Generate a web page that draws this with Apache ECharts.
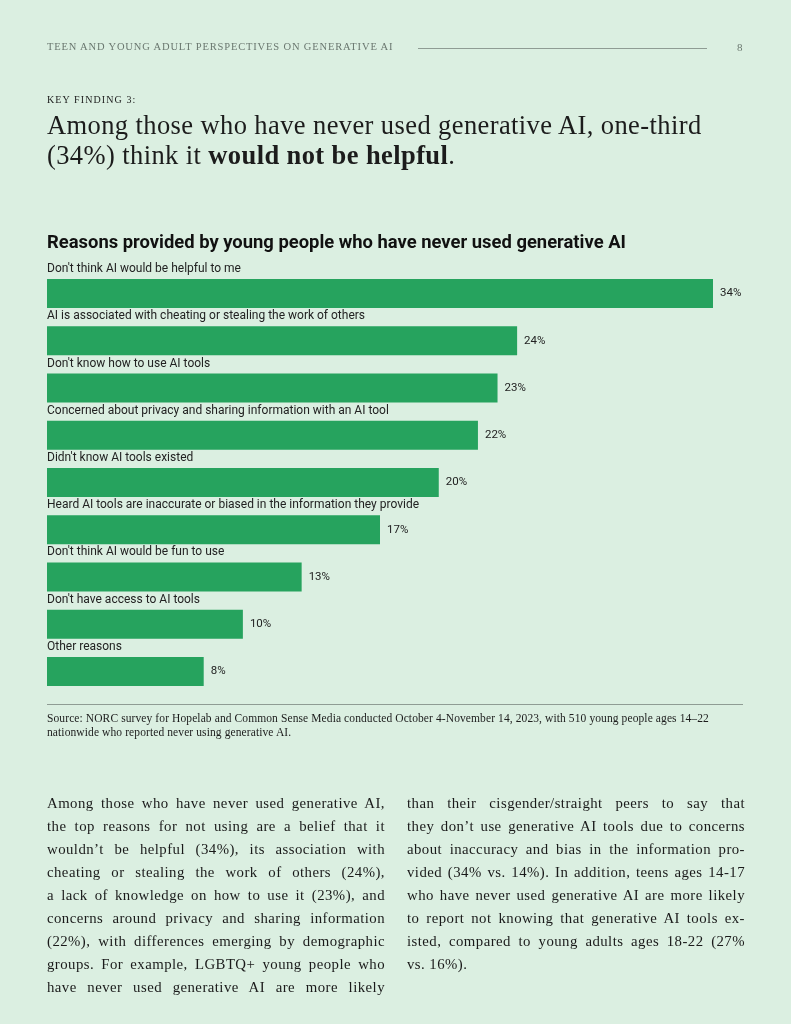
<!DOCTYPE html>
<html><head><meta charset="utf-8">
<script src="https://cdn.jsdelivr.net/npm/echarts@6/dist/echarts.min.js"></script>
<style>
html,body{margin:0;padding:0;}
body{width:791px;height:1024px;background:#dbefe1;position:relative;overflow:hidden;font-family:"Liberation Serif",serif;color:#1c1c1c;}
#chart{position:absolute;left:0;top:0;width:791px;height:1024px;}
.abs{position:absolute;white-space:nowrap;}
#hdr{left:47px;top:41px;font-size:10.5px;letter-spacing:0.85px;color:#6a776f;}
#hline{left:418px;top:48px;width:289px;height:0;border-top:1.5px solid #8f9c94;}
#pg{left:737px;top:41px;font-size:11px;color:#6a776f;}
#kf{left:47px;top:94px;font-size:10px;letter-spacing:1.1px;color:#1c1c1c;}
#head{left:47px;top:110px;font-size:26.5px;line-height:30px;letter-spacing:0.4px;color:#1c1c1c;}
#srcline{left:47px;top:704px;width:696px;border-top:1.5px solid #8f9c94;}
#src{left:47px;top:711px;font-size:11.5px;line-height:14px;letter-spacing:0.1px;color:#1c1c1c;}
.col{position:absolute;top:792px;width:338px;font-size:14.8px;line-height:23px;letter-spacing:0.45px;color:#1a1a1a;}
.col div{text-align:justify;text-align-last:justify;white-space:nowrap;}
.col div.last{text-align-last:left;}
</style></head>
<body>
<div id="chart"></div>
<div class="abs" id="hdr">TEEN AND YOUNG ADULT PERSPECTIVES ON GENERATIVE AI</div>
<div class="abs" id="hline"></div>
<div class="abs" id="pg">8</div>
<div class="abs" id="kf">KEY FINDING 3:</div>
<div class="abs" id="head">Among those who have never used generative AI, one-third<br>(34%) think it <b>would not be helpful</b>.</div>
<div class="abs" id="srcline"></div>
<div class="abs" id="src">Source: NORC survey for Hopelab and Common Sense Media conducted October 4-November 14, 2023, with 510 young people ages 14–22<br>nationwide who reported never using generative AI.</div>
<div class="col" style="left:47px">
<div>Among those who have never used generative AI,</div>
<div>the top reasons for not using are a belief that it</div>
<div>wouldn’t be helpful (34%), its association with</div>
<div>cheating or stealing the work of others (24%),</div>
<div>a lack of knowledge on how to use it (23%), and</div>
<div>concerns around privacy and sharing information</div>
<div>(22%), with differences emerging by demographic</div>
<div>groups. For example, LGBTQ+ young people who</div>
<div>have never used generative AI are more likely</div>
</div>
<div class="col" style="left:407px">
<div>than their cisgender/straight peers to say that</div>
<div>they don’t use generative AI tools due to concerns</div>
<div>about inaccuracy and bias in the information pro-</div>
<div>vided (34% vs. 14%). In addition, teens ages 14-17</div>
<div>who have never used generative AI are more likely</div>
<div>to report not knowing that generative AI tools ex-</div>
<div>isted, compared to young adults ages 18-22 (27%</div>
<div class="last">vs. 16%).</div>
</div>
<script>
const categories = [
  "Don't think AI would be helpful to me",
  "AI is associated with cheating or stealing the work of others",
  "Don't know how to use AI tools",
  "Concerned about privacy and sharing information with an AI tool",
  "Didn't know AI tools existed",
  "Heard AI tools are inaccurate or biased in the information they provide",
  "Don't think AI would be fun to use",
  "Don't have access to AI tools",
  "Other reasons"
];
const values = [34, 24, 23, 22, 20, 17, 13, 10, 8];
const chartTitle = "Reasons provided by young people who have never used generative AI";

const chart = echarts.init(document.getElementById('chart'));
chart.setOption({
  animation: false,
  backgroundColor: 'transparent',
  title: {
    text: chartTitle, left: 42, top: 229,
    textStyle: {fontFamily: 'Roboto', fontSize: 18.4, fontWeight: 'bold', color: '#111'}
  },
  grid: {left: 47, top: 270, width: 666, height: 425, containLabel: false},
  xAxis: {type: 'value', min: 0, max: 34, show: false},
  yAxis: {type: 'category', data: categories, inverse: true, show: false},
  series: [
    {
      type: 'bar', data: values, barWidth: 29,
      itemStyle: {color: '#26a35e'},
      label: {show: true, position: [0, -16], formatter: '{b}',
        fontFamily: 'Roboto', fontSize: 12, color: '#222'}
    },
    {
      type: 'bar', data: values, barWidth: 29, barGap: '-100%',
      itemStyle: {color: 'rgba(0,0,0,0)'},
      label: {show: true, position: 'right', distance: 7, formatter: '{c}%',
        fontFamily: 'Roboto', fontSize: 11.5, color: '#222'}
    }
  ]
});
</script>
</body></html>
